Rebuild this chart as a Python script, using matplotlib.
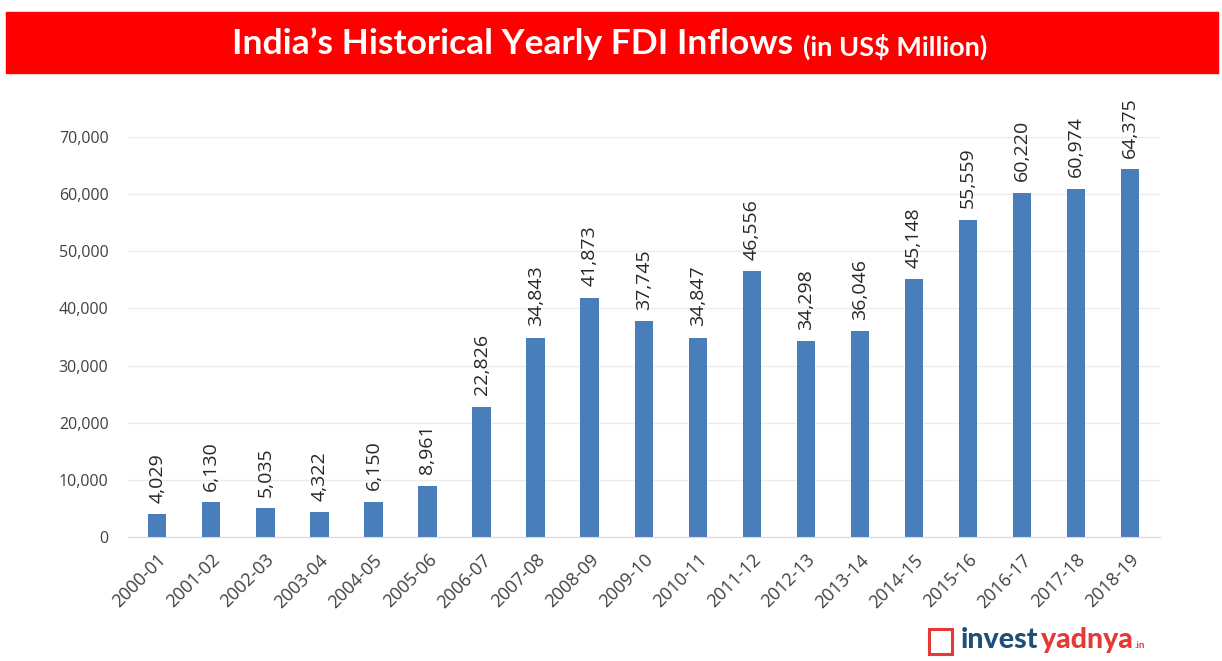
import matplotlib.pyplot as plt
from matplotlib.patches import Rectangle

years = ['2000-01', '2001-02', '2002-03', '2003-04', '2004-05', '2005-06', '2006-07',
         '2007-08', '2008-09', '2009-10', '2010-11', '2011-12', '2012-13', '2013-14',
         '2014-15', '2015-16', '2016-17', '2017-18', '2018-19']
fdi = [4029, 6130, 5035, 4322, 6150, 8961, 22826, 34843, 41873, 37745,
       34847, 46556, 34298, 36046, 45148, 55559, 60220, 60974, 64375]
yticks = [0, 10000, 20000, 30000, 40000, 50000, 60000, 70000]

plt.rcParams['font.family'] = ['Open Sans', 'DejaVu Sans']

fig = plt.figure(figsize=(12.22, 6.61), dpi=100)

# 红色标题栏
fig.patches.append(Rectangle((6 / 1222, 1 - 73 / 661), 1212 / 1222, 61 / 661,
                             transform=fig.transFigure, color='#ff0000', zorder=0))
fig.text(232 / 1222, 1 - 44 / 661, "India\u2019s Historical Yearly FDI Inflows",
         family='Lato', fontweight='bold', fontsize=25.5, color='white',
         ha='left', va='center')
fig.text(803 / 1222, 1 - 47 / 661, "(in US$ Million)", family='Lato', fontweight='bold',
         fontsize=19.5, color='white', ha='left', va='center')

ax = fig.add_axes([128 / 1222, 124 / 661, 1032 / 1222, 400 / 661])
x = range(len(years))
ax.bar(x, fdi, width=0.34, color='#4a7ebb', zorder=2)
ax.set_ylim(0, 70000)
ax.set_xlim(-0.54, len(years) - 0.45)
ax.set_yticks(yticks)
ax.set_yticklabels([f'{v:,}' for v in yticks], fontsize=11.5, color='#404040')
ax.set_xticks(list(x))
ax.set_xticklabels(years, rotation=45, ha='right', va='top', rotation_mode='anchor',
                   fontsize=13, color='#404040')
ax.tick_params(axis='y', length=0, pad=14)
ax.tick_params(axis='x', length=0, pad=10)
ax.grid(axis='y', color='#ececec', linewidth=1, zorder=0)
for s in ['top', 'right', 'left']:
    ax.spines[s].set_visible(False)
ax.spines['bottom'].set_color('#d9d9d9')

for i, v in enumerate(fdi):
    ax.text(i, v + 2000, f'{v:,}', rotation=90, ha='center', va='bottom',
            fontsize=14, color='#262626', clip_on=False)

# logo
fig.patches.append(Rectangle((929 / 1222, 1 - 654 / 661), 23 / 1222, 25 / 661,
                             transform=fig.transFigure, fill=False,
                             edgecolor='#e53935', linewidth=2.2))
l1 = fig.text(961 / 1222, 1 - 648 / 661, 'invest', family='Lato', fontweight='black',
              fontsize=20.5, color='#1f4e79', ha='left', va='baseline')
l2 = fig.add_artist(plt.Annotation('yadnya', xy=(1, 0), xycoords=l1,
                                   xytext=(2, 0), textcoords='offset points',
                                   family='Lato', fontweight='black', fontsize=20.5,
                                   color='#e53935', ha='left', va='bottom'))
fig.add_artist(plt.Annotation('.in', xy=(1, 0), xycoords=l2,
                              xytext=(1, 2), textcoords='offset points',
                              family='Lato', fontweight='bold', fontsize=7,
                              color='#e53935', ha='left', va='bottom'))

plt.savefig('out.png', dpi=100)
